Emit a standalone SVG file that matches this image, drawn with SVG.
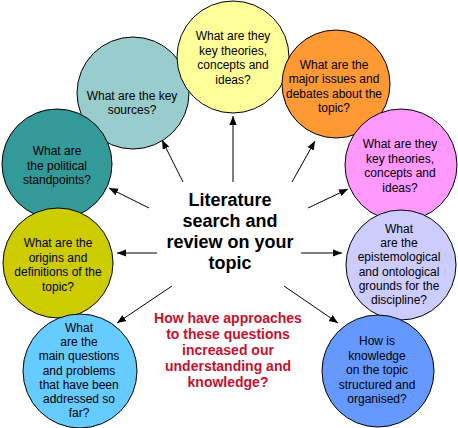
<svg xmlns="http://www.w3.org/2000/svg" width="458" height="428" viewBox="0 0 458 428">
<style>
.c{stroke:#000;stroke-width:1}
.t{font-family:"Liberation Sans",Arial,sans-serif;font-size:12px;fill:#000;text-anchor:middle}
.m{font-family:"Liberation Sans",Arial,sans-serif;font-size:18px;font-weight:bold;fill:#000;text-anchor:middle}
.r{font-family:"Liberation Sans",Arial,sans-serif;font-size:14px;font-weight:bold;fill:#c8102e;text-anchor:middle}
.a{stroke:#000;stroke-width:1;fill:none;marker-end:url(#ah)}
</style>
<defs>
<marker id="ah" viewBox="0 0 10 10" refX="10" refY="5" markerWidth="9" markerHeight="9" markerUnits="userSpaceOnUse" orient="auto">
<path d="M0,1 L10,5 L0,9 Z" fill="#000"/>
</marker>
</defs>
<rect width="458" height="428" fill="#fff"/>
<g id="n-sources">
<circle class="c" cx="133" cy="93" r="56" fill="#99cccc"/>
<text class="t" x="132" y="100">What are the key<tspan x="132" dy="14.3">sources?</tspan></text>
</g>
<g id="n-theories1">
<circle class="c" cx="233" cy="57" r="56" fill="#ffff99"/>
<text class="t" x="233" y="40">What are they<tspan x="233" dy="14.5">key theories,</tspan><tspan x="233" dy="14.5">concepts and</tspan><tspan x="233" dy="14.5">ideas?</tspan></text>
</g>
<g id="n-issues">
<circle class="c" cx="336" cy="84" r="54" fill="#ff9933"/>
<text class="t" x="334" y="69">What are the<tspan x="334" dy="14.3">major issues and</tspan><tspan x="334" dy="14.3">debates about the</tspan><tspan x="334" dy="14.3">topic?</tspan></text>
</g>
<g id="n-theories2">
<circle class="c" cx="401" cy="165" r="56" fill="#ff99ff"/>
<text class="t" x="400" y="148">What are they<tspan x="400" dy="14.5">key theories,</tspan><tspan x="400" dy="14.5">concepts and</tspan><tspan x="400" dy="14.5">ideas?</tspan></text>
</g>
<g id="n-epist">
<circle class="c" cx="401" cy="265" r="55" fill="#ccccff"/>
<text class="t" x="399" y="233">What<tspan x="399" dy="14.2">are the</tspan><tspan x="399" dy="14.2">epistemological</tspan><tspan x="399" dy="14.2">and ontological</tspan><tspan x="399" dy="14.2">grounds for the</tspan><tspan x="399" dy="14.2">discipline?</tspan></text>
</g>
<g id="n-structured">
<circle class="c" cx="378" cy="371" r="56" fill="#6699ff"/>
<text class="t" x="377" y="345">How is<tspan x="377" dy="14.5">knowledge</tspan><tspan x="377" dy="14.5">on the topic</tspan><tspan x="377" dy="14.5">structured and</tspan><tspan x="377" dy="14.5">organised?</tspan></text>
</g>
<g id="n-political">
<circle class="c" cx="57" cy="164" r="55" fill="#339999"/>
<text class="t" x="57" y="155">What are<tspan x="57" dy="14.5">the political</tspan><tspan x="57" dy="14.5">standpoints?</tspan></text>
</g>
<g id="n-origins">
<circle class="c" cx="58" cy="263" r="55" fill="#cccc00"/>
<text class="t" x="58" y="247">What are the<tspan x="58" dy="14.5">origins and</tspan><tspan x="58" dy="14.5">definitions of the</tspan><tspan x="58" dy="14.5">topic?</tspan></text>
</g>
<g id="n-questions">
<circle class="c" cx="80" cy="371" r="57" fill="#66ccff"/>
<text class="t" x="79" y="332">What<tspan x="79" dy="14.2">are the</tspan><tspan x="79" dy="14.2">main questions</tspan><tspan x="79" dy="14.2">and problems</tspan><tspan x="79" dy="14.2">that have been</tspan><tspan x="79" dy="14.2">addressed so</tspan><tspan x="79" dy="14.2">far?</tspan></text>
</g>
<g id="connectors">
<line class="a" x1="233" y1="182" x2="233" y2="116"/>
<line class="a" x1="183" y1="182" x2="162" y2="140"/>
<line class="a" x1="292" y1="182" x2="315" y2="141"/>
<line class="a" x1="149" y1="208" x2="109" y2="188"/>
<line class="a" x1="308" y1="208" x2="348" y2="189"/>
<line class="a" x1="157" y1="253" x2="117" y2="253"/>
<line class="a" x1="301" y1="253" x2="342" y2="253"/>
<line class="a" x1="172" y1="286" x2="117" y2="323"/>
<line class="a" x1="284" y1="286" x2="338" y2="323"/>
</g>
<g id="n-center">
<text class="m" x="230" y="206">Literature<tspan x="230" dy="21">search and</tspan><tspan x="230" dy="21">review on your</tspan><tspan x="230" dy="21">topic</tspan></text>
</g>
<g id="n-note">
<text class="r" x="228" y="323">How have approaches<tspan x="228" dy="16">to these questions</tspan><tspan x="228" dy="16">increased our</tspan><tspan x="228" dy="16">understanding and</tspan><tspan x="228" dy="16">knowledge?</tspan></text>
</g>
</svg>
